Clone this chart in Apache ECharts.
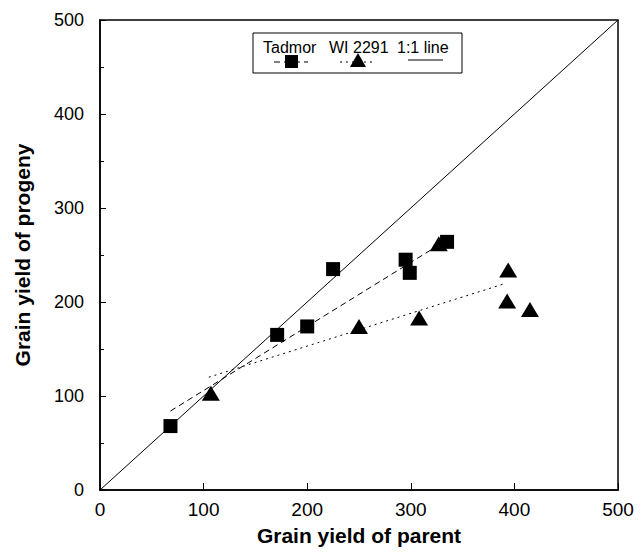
<!DOCTYPE html>
<html>
<head>
<meta charset="utf-8">
<script src="https://cdn.jsdelivr.net/npm/echarts@6/dist/echarts.min.js"></script>
<style>
  html, body { margin: 0; padding: 0; background: #fff; }
  #chart { width: 643px; height: 553px; }
</style>
</head>
<body>
<div id="chart"></div>
<script>
// parent yield (x) and progeny yield (y)
var tadmorX = [68, 171, 200, 225, 295, 299, 335];
var tadmorY = [68, 165, 174, 235, 245, 231, 264];
var wiX = [107, 250, 308, 327, 393, 394, 415];
var wiY = [103, 174, 183, 262, 201, 234, 192];
// fitted lines, endpoints [x, y]
var tadmorFit = [[68, 84], [335, 266]];
var wiFit = [[105, 120], [392, 220]];
var oneToOne = [[0, 0], [500, 500]];
var axisTicks = [0, 100, 200, 300, 400, 500];

function pairs(xs, ys) {
  return xs.map(function (x, i) { return [x, ys[i]]; });
}

var chart = echarts.init(document.getElementById("chart"), null, { renderer: "svg" });
var font = "Liberation Sans";
var black = "#000";

var option = {
  animation: false,
  backgroundColor: "#fff",
  grid: {
    left: 100, right: 25, top: 20, bottom: 63,
    show: true, borderColor: black, borderWidth: 1.5
  },
  xAxis: {
    type: "value", min: 0, max: 500, interval: 100,
    name: "Grain yield of parent", nameLocation: "middle", nameGap: 35,
    nameTextStyle: { fontFamily: font, fontSize: 21, fontWeight: "bold", color: black },
    axisLine: { lineStyle: { color: black, width: 1.5 } },
    axisTick: { inside: true, length: 7, lineStyle: { color: black } },
    axisLabel: { fontFamily: font, fontSize: 19, color: black, margin: 10,
      formatter: function (v) { return axisTicks.indexOf(v) >= 0 ? String(v) : ""; } },
    splitLine: { show: false }
  },
  yAxis: {
    type: "value", min: 0, max: 500, interval: 100,
    name: "Grain yield of progeny", nameLocation: "middle", nameGap: 67,
    nameTextStyle: { fontFamily: font, fontSize: 21, fontWeight: "bold", color: black },
    axisLine: { lineStyle: { color: black, width: 1.5 } },
    axisTick: { inside: true, length: 6, lineStyle: { color: black } },
    minorTick: { show: true, splitNumber: 2, length: 4, lineStyle: { color: black } },
    axisLabel: { fontFamily: font, fontSize: 18, color: black, margin: 16 },
    splitLine: { show: false }
  },
  graphic: [
    { type: "rect", shape: { x: 253, y: 33, width: 209, height: 40 },
      style: { fill: "#fff", stroke: black, lineWidth: 1 }, z: 10 },
    { type: "text", x: 263, y: 47, z: 11,
      style: { text: "Tadmor", font: "16px " + font, fill: black, verticalAlign: "middle" } },
    { type: "text", x: 329, y: 47, z: 11,
      style: { text: "WI 2291", font: "16px " + font, fill: black, verticalAlign: "middle" } },
    { type: "text", x: 397, y: 47, z: 11,
      style: { text: "1:1 line", font: "16px " + font, fill: black, verticalAlign: "middle" } },
    { type: "line", shape: { x1: 274, y1: 62, x2: 308, y2: 62 }, z: 11,
      style: { stroke: black, lineWidth: 1, lineDash: [6, 4] } },
    { type: "rect", shape: { x: 285, y: 55, width: 13, height: 13 }, z: 12,
      style: { fill: black } },
    { type: "line", shape: { x1: 340, y1: 62, x2: 374, y2: 62 }, z: 11,
      style: { stroke: black, lineWidth: 1, lineDash: [2, 4] } },
    { type: "polygon", shape: { points: [[358, 53], [366, 67], [350, 67]] }, z: 12,
      style: { fill: black } },
    { type: "line", shape: { x1: 408, y1: 60, x2: 443, y2: 60 }, z: 11,
      style: { stroke: black, lineWidth: 1 } }
  ],
  series: [
    {
      name: "1:1 line", type: "line", data: oneToOne, symbol: "none",
      lineStyle: { color: black, width: 1 }, z: 2
    },
    {
      name: "Tadmor fit", type: "line", data: tadmorFit, symbol: "none",
      lineStyle: { color: black, width: 1, type: [6, 4] }, z: 2
    },
    {
      name: "WI 2291 fit", type: "line", data: wiFit, symbol: "none",
      lineStyle: { color: black, width: 1, type: [2, 4] }, z: 2
    },
    {
      name: "Tadmor", type: "scatter", data: pairs(tadmorX, tadmorY),
      symbol: "rect", symbolSize: 14, itemStyle: { color: black, opacity: 1 }, z: 3
    },
    {
      name: "WI 2291", type: "scatter", data: pairs(wiX, wiY),
      symbol: "triangle", symbolSize: [18, 15], itemStyle: { color: black, opacity: 1 }, z: 3
    }
  ]
};

chart.setOption(option);
</script>
</body>
</html>
